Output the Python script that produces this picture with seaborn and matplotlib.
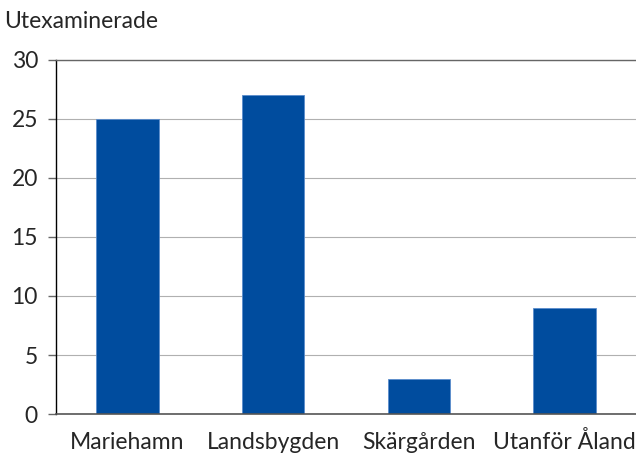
import matplotlib.pyplot as plt
import pandas as pd
import seaborn as sns

categories = ["Mariehamn", "Landsbygden", "Skärgården", "Utanför Åland"]
values = [25, 27, 3, 9]
y_ticks = [0, 5, 10, 15, 20, 25, 30]

df = pd.DataFrame({"omrade": categories, "antal": values})

sns.set_style("white")
plt.rcParams["font.family"] = ["Lato", "DejaVu Sans"]

fig = plt.figure(figsize=(6.36, 4.57), dpi=100)
ax = fig.add_axes([0.088, 0.094, 0.912, 0.775])

ax.yaxis.grid(True, color="#b0b0b0", linewidth=0.8)
ax.set_axisbelow(True)
sns.barplot(data=df, x="omrade", y="antal", color="#004c9e", saturation=1,
            width=0.43, edgecolor="#5a8ccc", linewidth=0.6, ax=ax)

ax.set_xlim(-0.49, 3.49)
ax.set_ylim(0, 30)
ax.set_yticks(y_ticks)
ax.tick_params(axis="y", direction="out", length=6, color="#666666", width=1,
               labelsize=16.5, pad=7, left=True)
ax.tick_params(axis="x", length=0, labelsize=16.5, pad=12)
for lbl in ax.get_xticklabels():
    lbl.set_verticalalignment("baseline")
    lbl.set_y(-0.052)
ax.set_xlabel("")
ax.set_ylabel("")

ax.spines["left"].set_color("black")
ax.spines["left"].set_linewidth(1)
ax.spines["bottom"].set_color("#555555")
ax.spines["bottom"].set_linewidth(1.2)
ax.spines["top"].set_color("#666666")
ax.spines["top"].set_linewidth(1)
ax.spines["right"].set_visible(False)

fig.text(0.006, 0.952, "Utexaminerade", fontsize=16.5, ha="left", va="center")

fig.savefig("out.png", dpi=100)
